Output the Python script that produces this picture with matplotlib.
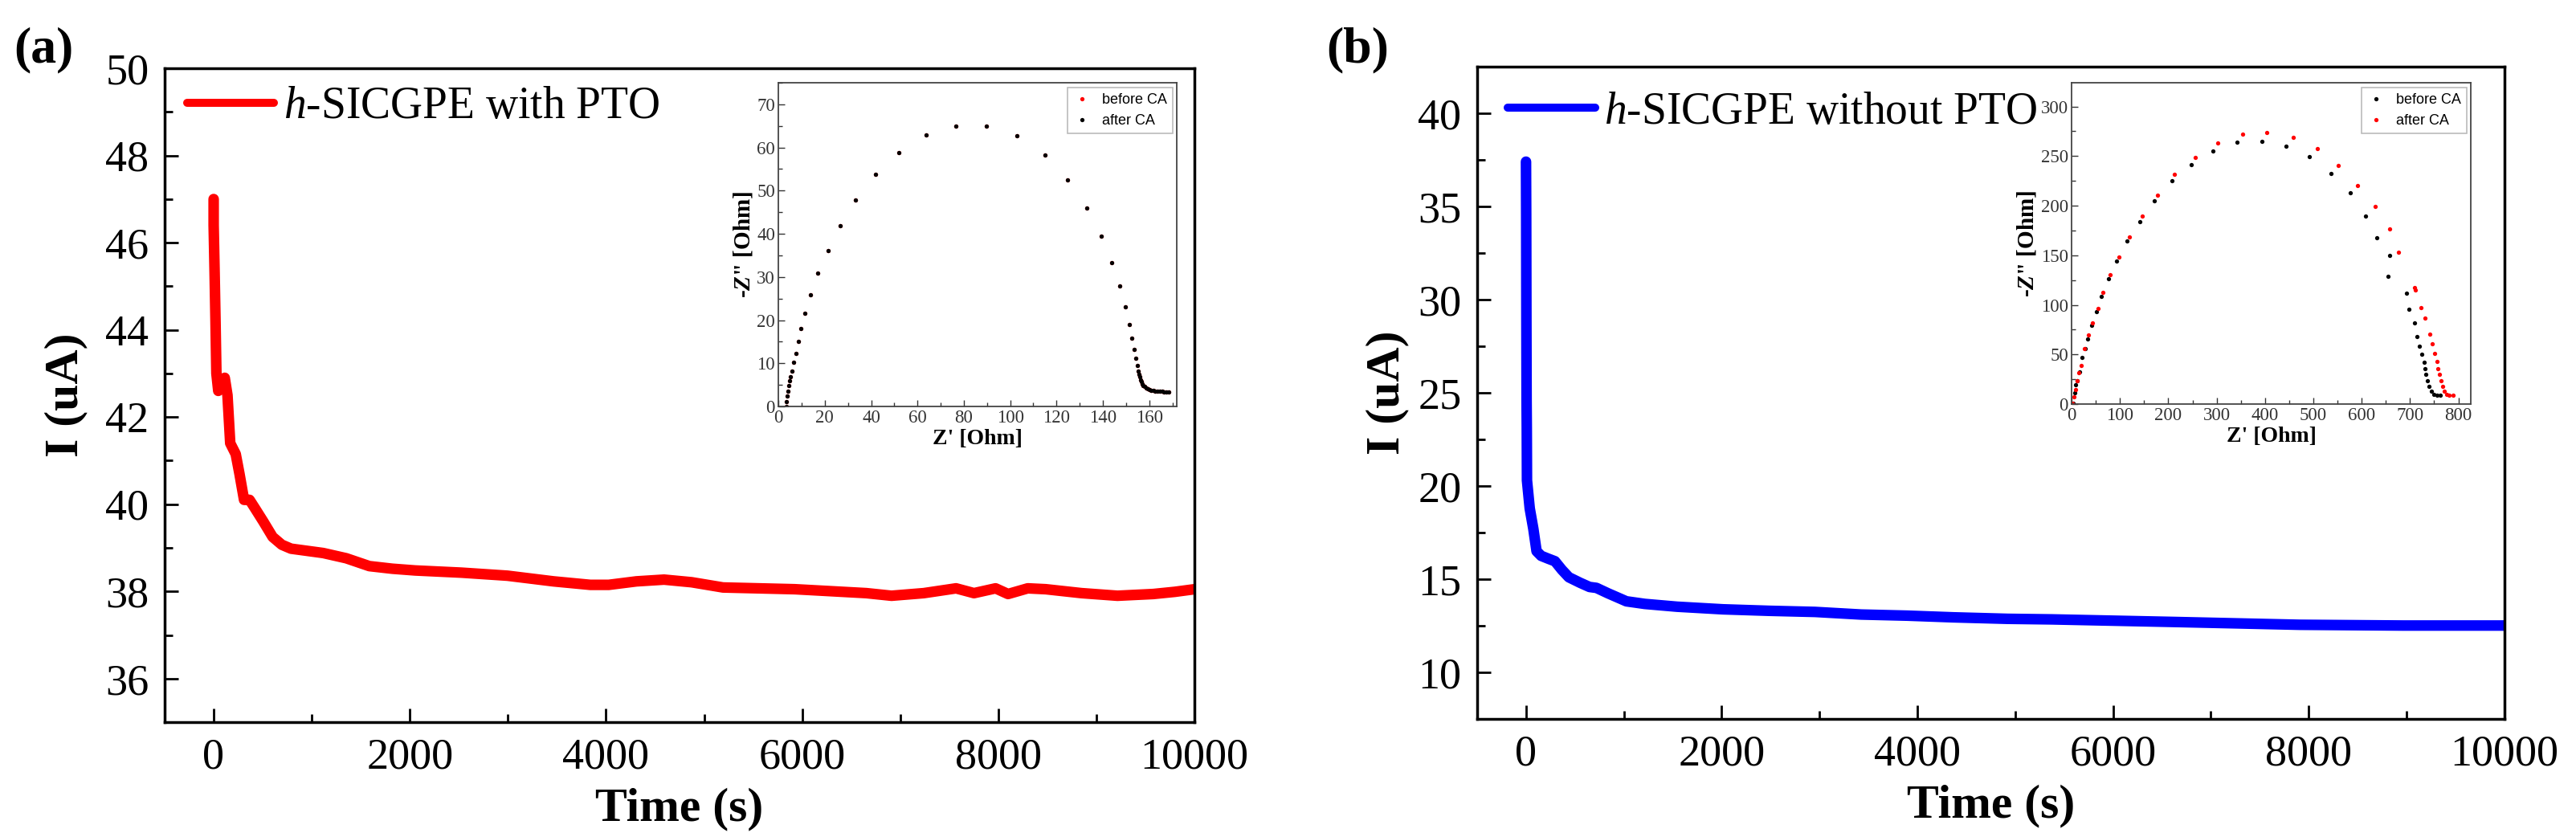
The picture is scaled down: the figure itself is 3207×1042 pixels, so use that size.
import matplotlib
matplotlib.use("Agg")
import matplotlib.pyplot as plt
from matplotlib.ticker import MultipleLocator

plt.rcParams['font.family'] = ['Liberation Serif', 'DejaVu Serif']
plt.rcParams['mathtext.fontset'] = 'custom'
plt.rcParams['mathtext.rm'] = 'Liberation Serif'
plt.rcParams['mathtext.it'] = 'Liberation Serif:italic'
plt.rcParams['mathtext.bf'] = 'Liberation Serif:italic:bold'

# ---- chronoamperometry, panel (a): with PTO
t_a = [0, 0, 9, 19, 28, 47, 75, 113, 141, 169, 225, 263, 310, 366, 423, 507, 601, 695, 789,
       1117, 1352, 1587, 1822, 2056, 2526, 2995, 3465, 3840, 4028, 4310, 4592, 4873, 5193,
       5924, 6655, 6911, 7240, 7569, 7752, 7972, 8099, 8300, 8483, 8849, 9215, 9580, 9800, 10000]
I_a = [47.0, 46.4, 45.4, 44.2, 43.0, 42.6, 42.8, 42.9, 42.5, 41.4, 41.15, 40.7, 40.1, 40.1, 39.9,
       39.6, 39.25, 39.07, 38.98, 38.88, 38.76, 38.58, 38.52, 38.48, 38.43, 38.36, 38.23, 38.15,
       38.15, 38.23, 38.27, 38.21, 38.09, 38.05, 37.96, 37.90, 37.96, 38.07, 37.96, 38.07, 37.94,
       38.07, 38.05, 37.96, 37.90, 37.94, 37.99, 38.05]

# ---- panel (b): without PTO
t_b = [0, 2, 4, 6, 8, 10, 38, 75, 108, 155, 226, 296, 367, 438, 555, 649, 720, 838, 1026, 1214,
       1544, 2014, 2485, 2955, 3426, 3897, 4367, 4922, 5373, 6641, 7908, 8965, 10000]
I_b = [37.4, 34.6, 28.9, 24.6, 23.1, 20.3, 18.8, 17.7, 16.5, 16.25, 16.1, 15.96, 15.5, 15.1, 14.8,
       14.58, 14.53, 14.24, 13.81, 13.67, 13.52, 13.38, 13.3, 13.24, 13.1, 13.04, 12.95, 12.87,
       12.84, 12.70, 12.55, 12.51, 12.51]

# ---- EIS inset (a)
zr_a_after = [3.3, 3.5, 3.7, 4.0, 4.3, 4.7, 5.2, 5.9, 6.6, 7.6, 8.5, 9.8, 11.4, 13.9, 17.0, 21.3,
              26.5, 33.4, 41.8, 52.1, 63.9, 76.6, 89.8, 103.0, 115.0, 124.9, 133.1, 139.4, 143.8,
              147.4, 149.6, 151.4, 152.5, 153.4, 154.1, 154.8, 155.4, 155.6, 155.9, 156.2, 156.6,
              157.0, 157.5, 158.0, 158.6, 159.3, 160.0, 160.8, 161.7, 162.6, 163.5, 164.5, 165.5,
              166.5, 167.5, 168.3]
zi_a_after = [0.0, 1.2, 2.4, 3.6, 4.8, 5.9, 6.9, 8.2, 10.2, 12.3, 15.0, 18.1, 21.6, 25.9, 30.8,
              36.1, 41.9, 47.9, 53.7, 58.8, 62.9, 65.0, 64.9, 62.7, 58.3, 52.5, 46.0, 39.5, 33.4,
              27.9, 23.1, 19.0, 15.8, 13.3, 11.2, 9.5, 8.1, 7.4, 6.8, 6.2, 5.7, 5.3, 4.9, 4.6, 4.3,
              4.1, 3.9, 3.8, 3.7, 3.6, 3.55, 3.5, 3.45, 3.4, 3.4, 3.4]
zr_a_before = zr_a_after   # hidden under the black points
zi_a_before = zi_a_after

# ---- EIS inset (b)
zr_b_before = [3.0, 6.0, 8.9, 11.9, 17.1, 22.3, 27.5, 32.7, 40.9, 50.6, 61.7, 76.6, 93.7, 115.2,
               140.5, 171.7, 207.4, 247.6, 292.9, 342.8, 394.1, 443.9, 492.2, 536.1, 576.2, 607.4,
               632.0, 658.7, 654.3, 692.9, 698.1, 708.6, 714.5, 719.7, 724.9, 728.6, 730.9, 733.1,
               736.1, 739.8, 744.2, 749.4, 755.4, 762.8]
zi_b_before = [0.9, 11.6, 19.2, 23.8, 32.3, 46.7, 55.8, 65.9, 79.6, 93.4, 108.3, 126.0, 144.3,
               164.2, 184.0, 204.5, 225.2, 241.7, 255.4, 264.0, 264.9, 260.0, 249.6, 232.2, 213.0,
               189.5, 167.8, 149.8, 128.5, 111.4, 95.2, 81.8, 68.0, 58.3, 50.4, 42.1, 36.0, 29.9,
               23.8, 17.7, 13.1, 10.1, 8.8, 8.8]
zr_b_after = [1.5, 4.5, 8.2, 11.9, 14.9, 19.3, 26.8, 34.2, 43.1, 54.3, 65.4, 80.3, 97.4, 119.0,
              145.7, 177.0, 213.4, 255.0, 301.9, 353.2, 404.5, 458.0, 507.8, 551.7, 591.8, 627.5,
              657.2, 676.6, 708.6, 710.8, 722.0, 731.6, 740.5, 746.5, 751.7, 755.4, 757.6, 761.3,
              764.3, 768.0, 771.7, 776.2, 781.4, 788.8]
zi_b_after = [0.9, 7.0, 14.6, 23.8, 31.4, 39.1, 55.8, 69.6, 81.8, 96.1, 112.3, 130.0, 148.0, 168.4,
              189.5, 210.6, 231.3, 248.7, 263.0, 271.9, 274.0, 268.8, 257.6, 240.8, 220.0, 199.0,
              176.4, 152.9, 117.8, 115.3, 97.0, 86.4, 70.5, 60.4, 51.3, 42.7, 36.0, 29.9, 23.8,
              17.7, 13.1, 10.1, 9.2, 9.2]


def style_main(ax, ylim, ymaj, ymin, ylabelpad):
    ax.set_xlim(-500, 10000)
    ax.set_ylim(*ylim)
    ax.xaxis.set_major_locator(MultipleLocator(2000))
    ax.xaxis.set_minor_locator(MultipleLocator(1000))
    ax.yaxis.set_major_locator(MultipleLocator(ymaj))
    ax.yaxis.set_minor_locator(MultipleLocator(ymin))
    ax.tick_params(which='both', direction='in', top=False, right=False, width=2)
    ax.tick_params(which='major', length=12, labelsize=39, pad=14)
    ax.tick_params(which='minor', length=7)
    for s in ax.spines.values():
        s.set_linewidth(2.5)
    ax.set_xlabel('Time (s)', fontsize=43, fontweight='bold', labelpad=8)
    ax.set_ylabel('I (uA)', fontsize=43, fontweight='bold', labelpad=ylabelpad)


def style_inset(ax, xlim, ylim, xmaj, xmin, ymaj, ymin):
    ax.set_xlim(*xlim)
    ax.set_ylim(*ylim)
    ax.xaxis.set_major_locator(MultipleLocator(xmaj))
    ax.xaxis.set_minor_locator(MultipleLocator(xmin))
    ax.yaxis.set_major_locator(MultipleLocator(ymaj))
    ax.yaxis.set_minor_locator(MultipleLocator(ymin))
    ax.tick_params(which='both', direction='in', top=False, right=False, width=1, colors='#333333')
    ax.tick_params(which='major', length=6, labelsize=16.5, pad=3, labelcolor='#333333')
    ax.tick_params(which='minor', length=3.5)
    for s in ax.spines.values():
        s.set_linewidth(1.3)
        s.set_color('#444444')
    ax.set_xlabel("Z' [Ohm]", fontsize=20, fontweight='bold', labelpad=2)
    ax.set_ylabel(r'-$\mathbf{Z}$" [Ohm]', fontsize=21, fontweight='bold', labelpad=2)


def main_legend(ax, anchor):
    leg = ax.legend(loc='center left', bbox_to_anchor=anchor, frameon=False, fontsize=40,
                    handlelength=1.95, handletextpad=0.2, borderpad=0, borderaxespad=0)
    for ln in leg.get_lines():
        ln.set_linewidth(7.2)


fig = plt.figure(figsize=(32.07, 10.42), dpi=100)

ax1 = fig.add_axes([0.0639, 0.1372, 0.3998, 0.7812])
ax1.plot(t_a, I_a, color='#FF0000', lw=9.5, solid_capstyle='round', solid_joinstyle='round',
         label='$h$-SICGPE with PTO')
style_main(ax1, (35, 50), 2, 1, 16)
main_legend(ax1, (0.022, 0.941))

ax2 = fig.add_axes([0.5734, 0.1411, 0.3988, 0.7793])
ax2.plot(t_b, I_b, color='#0000FF', lw=9.5, solid_capstyle='round', solid_joinstyle='round',
         label='$h$-SICGPE without PTO')
style_main(ax2, (7.5, 42.5), 5, 2.5, 8)
main_legend(ax2, (0.030, 0.930))

fig.text(0.0053, 0.94, '(a)', fontsize=46, fontweight='bold', va='center', ha='left')
fig.text(0.515, 0.94, '(b)', fontsize=46, fontweight='bold', va='center', ha='left')

ins1 = fig.add_axes([0.3022, 0.5144, 0.1547, 0.3868])
ins1.plot(zr_a_before, zi_a_before, 'o', color='red', ms=3.8, mew=0, label='before CA')
ins1.plot(zr_a_after, zi_a_after, 'o', color='black', ms=3.8, mew=0, label='after CA')
style_inset(ins1, (0, 172), (0, 75), 20, 10, 10, 5)

ins2 = fig.add_axes([0.8042, 0.5173, 0.155, 0.3839])
ins2.plot(zr_b_before, zi_b_before, 'o', color='black', ms=3.8, mew=0, label='before CA')
ins2.plot(zr_b_after, zi_b_after, 'o', color='red', ms=3.8, mew=0, label='after CA')
style_inset(ins2, (0, 826), (0, 324), 100, 50, 50, 25)

for ins in (ins1, ins2):
    leg = ins.legend(loc='upper right', bbox_to_anchor=(0.99, 0.985), fancybox=False,
                     prop={'family': 'Liberation Sans', 'size': 13}, handlelength=1.2,
                     handletextpad=0.8, borderaxespad=0, markerscale=1.0, framealpha=1)
    leg.get_frame().set_edgecolor('#BBBBBB')
    leg.get_frame().set_linewidth(1.2)

fig.savefig('out.png', dpi=100)
